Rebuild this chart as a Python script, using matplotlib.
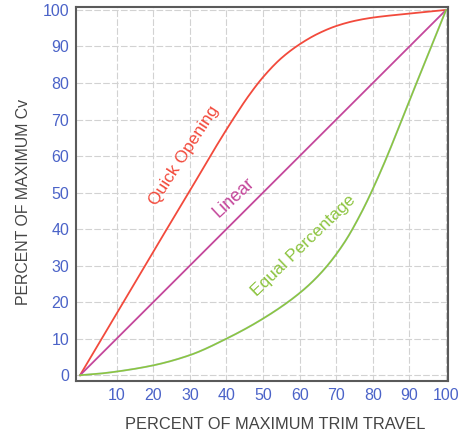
import numpy as np
import matplotlib
matplotlib.use('Agg')
import matplotlib.pyplot as plt

plt.rcParams['font.family'] = ['Liberation Sans', 'DejaVu Sans']

# linear characteristic
lin_x = [0, 100]
lin_y = [0, 100]

# quick opening characteristic
qo_x = [0, 20, 30, 38, 42, 46, 50, 55, 60, 65, 70, 75, 80, 90, 100]
qo_y = [0, 33.8, 50.5, 64, 70.4, 76.4, 81.6, 86.8, 90.6, 93.5, 95.6, 97, 97.9, 99, 100]

# equal percentage characteristic
eq_x = [0, 5, 10, 20, 30, 40, 50, 60, 66, 72, 77, 82, 91, 100]
eq_y = [0, 0.4, 1, 2.7, 5.5, 10, 15.5, 22.5, 28.2, 36, 44.8, 55.5, 77.7, 100]

x_ticks = [10, 20, 30, 40, 50, 60, 70, 80, 90, 100]
y_ticks = [0, 10, 20, 30, 40, 50, 60, 70, 80, 90, 100]

red = '#f24a3c'
mag = '#c4479b'
grn = '#8dc440'
blue = '#4b63c8'


def smooth(xs, ys):
    # monotone cubic (pchip) through the read-off points
    xs = np.asarray(xs, float)
    ys = np.asarray(ys, float)
    xx = np.linspace(xs[0], xs[-1], 400)
    h = np.diff(xs)
    d = np.diff(ys) / h
    m = np.zeros_like(ys)
    m[0] = d[0]
    m[-1] = d[-1]
    for i in range(1, len(xs) - 1):
        if d[i - 1] * d[i] <= 0:
            m[i] = 0
        else:
            w1 = 2 * h[i] + h[i - 1]
            w2 = h[i] + 2 * h[i - 1]
            m[i] = (w1 + w2) / (w1 / d[i - 1] + w2 / d[i])
    idx = np.clip(np.searchsorted(xs, xx) - 1, 0, len(xs) - 2)
    t = (xx - xs[idx]) / h[idx]
    h00 = 2 * t**3 - 3 * t**2 + 1
    h10 = t**3 - 2 * t**2 + t
    h01 = -2 * t**3 + 3 * t**2
    h11 = t**3 - t**2
    yy = h00 * ys[idx] + h10 * h[idx] * m[idx] + h01 * ys[idx + 1] + h11 * h[idx] * m[idx + 1]
    return xx, yy


fig = plt.figure(figsize=(4.75, 4.37), dpi=100)
ax = fig.add_axes([0.16, 0.128, 0.783, 0.856])

x1, y1 = smooth(qo_x, qo_y)
x3, y3 = smooth(eq_x, eq_y)

ax.plot(x1, y1, color=red, lw=1.3)
ax.plot(lin_x, lin_y, color=mag, lw=1.3)
ax.plot(x3, y3, color='#7fb8d8', lw=1.4, alpha=0.5)
ax.plot(x3, y3, color=grn, lw=1.2)

ax.text(28.5, 60, 'Quick Opening', color=red, fontsize=12.5, rotation=57,
        ha='center', va='center', rotation_mode='anchor')
ax.text(42, 48.5, 'Linear', color=mag, fontsize=13, rotation=43,
        ha='center', va='center', rotation_mode='anchor')
ax.text(61, 35.5, 'Equal Percentage', color=grn, fontsize=12.5, rotation=44,
        ha='center', va='center', rotation_mode='anchor')

ax.set_xlim(-1.1, 100.5)
ax.set_ylim(-1.6, 100.8)
ax.set_xticks(x_ticks)
ax.set_yticks(y_ticks)
ax.tick_params(length=0, labelsize=11.5, labelcolor=blue, pad=5)
ax.grid(True, color='#d2d2d2', linestyle=(0, (6, 2)), lw=0.8)
for s in ax.spines.values():
    s.set_color('#5a5a5a')
    s.set_linewidth(1.5)

ax.set_xlabel('PERCENT OF MAXIMUM TRIM TRAVEL', fontsize=11.8, color='#444444')
ax.set_ylabel('PERCENT OF MAXIMUM Cv', fontsize=11.4, color='#444444')
ax.xaxis.set_label_coords(0.535, -0.097)
ax.yaxis.set_label_coords(-0.12, 0.48)

fig.savefig('out.png', dpi=100)
